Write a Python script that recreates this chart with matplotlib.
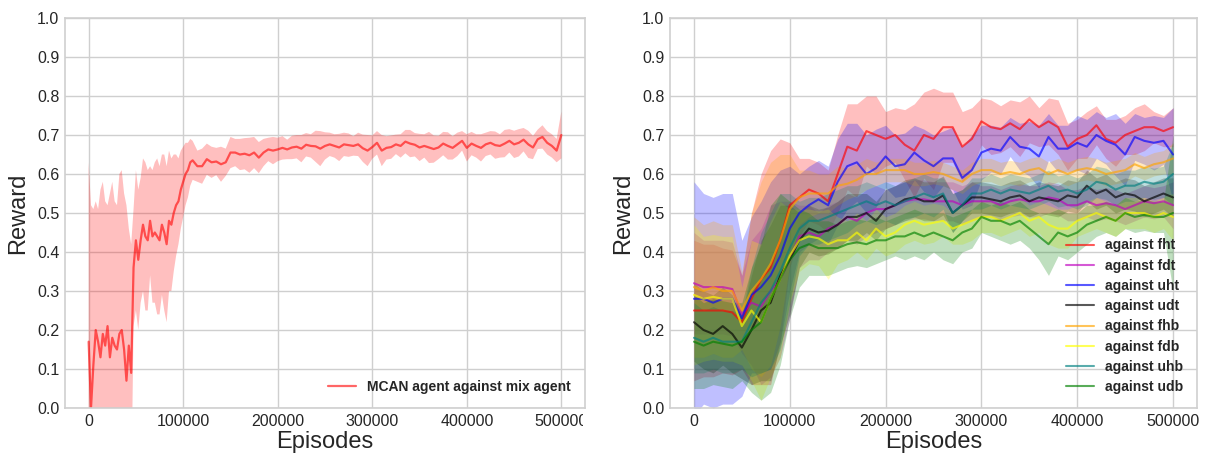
import numpy as np
import matplotlib
matplotlib.use("Agg")
import matplotlib.pyplot as plt
from matplotlib.patches import Rectangle

# ---------------- data: left panel ----------------
left_episodes = np.concatenate([np.arange(0, 110000, 2500), np.arange(110000, 500001, 5000)])
left_mean = [
    0.17, 0.00, 0.11, 0.20, 0.17, 0.13, 0.19, 0.16, 0.21, 0.13, 0.18, 0.16, 0.15, 0.19, 0.20, 0.15,
    0.07, 0.16, 0.09, 0.36, 0.43, 0.38, 0.43, 0.47, 0.44, 0.43, 0.48, 0.44, 0.45, 0.44, 0.43, 0.47,
    0.45, 0.42, 0.48, 0.47, 0.50, 0.52, 0.53, 0.56, 0.58, 0.60, 0.61, 0.63,
    # 110000 .. 500000 step 5000
    0.635, 0.62, 0.62, 0.638, 0.63, 0.632, 0.625, 0.63, 0.655, 0.655, 0.65, 0.652, 0.648, 0.655,
    0.642, 0.655, 0.663, 0.66, 0.663, 0.667, 0.663, 0.668, 0.67, 0.665, 0.675, 0.672, 0.671, 0.665,
    0.672, 0.676, 0.672, 0.668, 0.676, 0.674, 0.672, 0.676, 0.666, 0.66, 0.669, 0.68, 0.66, 0.667,
    0.669, 0.676, 0.672, 0.683, 0.678, 0.675, 0.668, 0.672, 0.668, 0.664, 0.668, 0.678, 0.672, 0.667,
    0.676, 0.685, 0.667, 0.678, 0.672, 0.667, 0.676, 0.68, 0.674, 0.672, 0.678, 0.685, 0.676, 0.68,
    0.688, 0.676, 0.668, 0.689, 0.695, 0.68, 0.672, 0.66, 0.70,
]
left_std = [
    0.46, 0.52, 0.40, 0.33, 0.34, 0.43, 0.39, 0.37, 0.31, 0.42, 0.40, 0.37, 0.37, 0.41, 0.41, 0.40,
    0.45, 0.30, 0.33, 0.15, 0.18, 0.18, 0.16, 0.17, 0.19, 0.18, 0.14, 0.17, 0.18, 0.20, 0.19, 0.18,
    0.20, 0.20, 0.18, 0.17, 0.15, 0.13, 0.11, 0.10, 0.09, 0.08, 0.07, 0.06,
    # 110000 .. 500000 step 5000
    0.05, 0.04, 0.045, 0.04, 0.04, 0.035, 0.045, 0.035, 0.04, 0.035, 0.04, 0.04, 0.045, 0.04,
    0.04, 0.035, 0.03, 0.035, 0.03, 0.03, 0.025, 0.03, 0.03, 0.035, 0.03, 0.03, 0.04, 0.045,
    0.035, 0.03, 0.03, 0.035, 0.03, 0.03, 0.025, 0.03, 0.035, 0.04, 0.03, 0.03, 0.04, 0.03,
    0.03, 0.025, 0.03, 0.03, 0.035, 0.03, 0.035, 0.03, 0.04, 0.035, 0.03, 0.03, 0.035, 0.03,
    0.03, 0.025, 0.035, 0.03, 0.03, 0.035, 0.03, 0.03, 0.035, 0.03, 0.035, 0.03, 0.035, 0.035,
    0.03, 0.035, 0.03, 0.025, 0.03, 0.03, 0.03, 0.03, 0.06,
]
left_label = "MCAN agent against mix agent"

# ---------------- data: right panel ----------------
right_episodes = np.arange(0, 500001, 10000)
series_names = ["against fht", "against fdt", "against uht", "against udt",
                "against fhb", "against fdb", "against uhb", "against udb"]
series_colors = ["red", "m", "blue", "k", "orange", "yellow", "teal", "green"]

fht_mean = [0.25, 0.25, 0.25, 0.25, 0.245, 0.22, 0.28, 0.33, 0.36, 0.43, 0.52, 0.54, 0.56, 0.55, 0.53, 0.60, 0.67,
            0.66, 0.71, 0.70, 0.69, 0.70, 0.675, 0.66, 0.70, 0.69, 0.72, 0.72, 0.67, 0.69, 0.735, 0.72, 0.715, 0.73,
            0.715, 0.74, 0.72, 0.735, 0.72, 0.67, 0.69, 0.70, 0.725, 0.69, 0.68, 0.70, 0.71, 0.72, 0.72, 0.71, 0.72]
fht_std = [0.18, 0.17, 0.17, 0.16, 0.16, 0.12, 0.22, 0.27, 0.30, 0.26, 0.16, 0.10, 0.08, 0.08, 0.08, 0.10, 0.11,
           0.12, 0.09, 0.10, 0.07, 0.07, 0.09, 0.12, 0.11, 0.13, 0.09, 0.09, 0.09, 0.08, 0.06, 0.07, 0.06, 0.06,
           0.07, 0.06, 0.05, 0.06, 0.07, 0.06, 0.05, 0.06, 0.05, 0.05, 0.06, 0.05, 0.06, 0.06, 0.04, 0.04, 0.05]

fdt_mean = [0.32, 0.31, 0.31, 0.31, 0.305, 0.24, 0.27, 0.26, 0.30, 0.33, 0.38, 0.44, 0.45, 0.44, 0.46, 0.47, 0.49,
            0.48, 0.50, 0.51, 0.51, 0.52, 0.53, 0.535, 0.535, 0.53, 0.53, 0.53, 0.52, 0.53, 0.53, 0.53, 0.52, 0.53,
            0.535, 0.53, 0.53, 0.54, 0.535, 0.52, 0.52, 0.53, 0.52, 0.525, 0.52, 0.51, 0.52, 0.53, 0.525, 0.53, 0.52]
fdt_std = [0.13, 0.12, 0.12, 0.12, 0.12, 0.10, 0.16, 0.20, 0.22, 0.20, 0.15, 0.08, 0.07, 0.06, 0.06, 0.06, 0.06,
           0.06, 0.06, 0.06, 0.05, 0.05, 0.05, 0.05, 0.05, 0.05, 0.05, 0.05, 0.05, 0.05, 0.04, 0.04, 0.04, 0.04,
           0.04, 0.04, 0.04, 0.04, 0.04, 0.04, 0.04, 0.04, 0.04, 0.04, 0.04, 0.04, 0.04, 0.04, 0.04, 0.04, 0.06]

uht_mean = [0.28, 0.28, 0.27, 0.28, 0.28, 0.23, 0.29, 0.31, 0.34, 0.39, 0.46, 0.50, 0.52, 0.535, 0.52, 0.58, 0.62,
            0.63, 0.60, 0.615, 0.645, 0.62, 0.625, 0.655, 0.635, 0.62, 0.64, 0.64, 0.59, 0.61, 0.655, 0.665, 0.66,
            0.695, 0.67, 0.665, 0.645, 0.695, 0.665, 0.665, 0.68, 0.67, 0.70, 0.685, 0.675, 0.65, 0.695, 0.685,
            0.68, 0.685, 0.65]
uht_std = [0.30, 0.27, 0.27, 0.27, 0.27, 0.20, 0.20, 0.22, 0.24, 0.22, 0.16, 0.10, 0.10, 0.10, 0.10, 0.11, 0.11,
           0.10, 0.10, 0.10, 0.08, 0.08, 0.08, 0.07, 0.08, 0.08, 0.07, 0.08, 0.08, 0.09, 0.07, 0.06, 0.06, 0.05,
           0.06, 0.07, 0.08, 0.06, 0.06, 0.06, 0.07, 0.07, 0.06, 0.06, 0.08, 0.08, 0.06, 0.06, 0.07, 0.06, 0.12]

udt_mean = [0.22, 0.20, 0.19, 0.21, 0.19, 0.155, 0.20, 0.25, 0.27, 0.34, 0.38, 0.43, 0.46, 0.45, 0.455, 0.47, 0.49,
            0.49, 0.50, 0.48, 0.51, 0.52, 0.535, 0.54, 0.53, 0.53, 0.545, 0.50, 0.52, 0.54, 0.54, 0.535, 0.53, 0.54,
            0.545, 0.53, 0.54, 0.535, 0.53, 0.545, 0.54, 0.57, 0.55, 0.56, 0.54, 0.55, 0.545, 0.53, 0.54, 0.55, 0.54]
udt_std = [0.10, 0.10, 0.10, 0.10, 0.10, 0.08, 0.14, 0.18, 0.20, 0.18, 0.14, 0.07, 0.06, 0.06, 0.06, 0.06, 0.06,
           0.06, 0.05, 0.05, 0.05, 0.05, 0.05, 0.05, 0.05, 0.05, 0.05, 0.05, 0.04, 0.04, 0.04, 0.04, 0.04, 0.04,
           0.04, 0.04, 0.04, 0.04, 0.04, 0.04, 0.04, 0.04, 0.04, 0.04, 0.04, 0.04, 0.04, 0.04, 0.04, 0.04, 0.05]

fhb_mean = [0.31, 0.30, 0.31, 0.30, 0.30, 0.25, 0.30, 0.33, 0.37, 0.43, 0.51, 0.54, 0.55, 0.55, 0.55, 0.57, 0.575,
            0.585, 0.60, 0.60, 0.61, 0.61, 0.61, 0.60, 0.60, 0.605, 0.60, 0.59, 0.58, 0.60, 0.61, 0.61, 0.60, 0.605,
            0.60, 0.61, 0.615, 0.60, 0.61, 0.60, 0.61, 0.615, 0.61, 0.60, 0.605, 0.61, 0.625, 0.615, 0.625, 0.63,
            0.64]
fhb_std = [0.18, 0.17, 0.17, 0.17, 0.17, 0.10, 0.20, 0.25, 0.26, 0.22, 0.14, 0.07, 0.06, 0.05, 0.05, 0.05, 0.04,
           0.04, 0.04, 0.03, 0.03, 0.03, 0.03, 0.03, 0.03, 0.03, 0.03, 0.03, 0.03, 0.03, 0.03, 0.03, 0.03, 0.03,
           0.03, 0.03, 0.03, 0.03, 0.03, 0.03, 0.03, 0.03, 0.03, 0.03, 0.03, 0.03, 0.03, 0.03, 0.03, 0.03, 0.04]

fdb_mean = [0.29, 0.28, 0.285, 0.28, 0.28, 0.21, 0.25, 0.22, 0.28, 0.33, 0.39, 0.43, 0.44, 0.435, 0.42, 0.43, 0.43,
            0.45, 0.43, 0.46, 0.44, 0.45, 0.47, 0.48, 0.47, 0.475, 0.48, 0.46, 0.47, 0.48, 0.49, 0.49, 0.48, 0.49,
            0.50, 0.48, 0.49, 0.47, 0.46, 0.46, 0.48, 0.49, 0.50, 0.49, 0.48, 0.50, 0.50, 0.50, 0.49, 0.50, 0.49]
fdb_std = [0.18, 0.16, 0.16, 0.16, 0.16, 0.10, 0.18, 0.20, 0.20, 0.20, 0.12, 0.08, 0.07, 0.07, 0.09, 0.06, 0.05,
           0.05, 0.05, 0.05, 0.05, 0.05, 0.05, 0.05, 0.05, 0.05, 0.04, 0.04, 0.05, 0.05, 0.04, 0.04, 0.04, 0.04,
           0.04, 0.04, 0.04, 0.05, 0.05, 0.05, 0.04, 0.04, 0.04, 0.04, 0.04, 0.04, 0.04, 0.04, 0.04, 0.04, 0.06]

uhb_mean = [0.18, 0.17, 0.18, 0.17, 0.17, 0.17, 0.22, 0.27, 0.30, 0.35, 0.41, 0.46, 0.48, 0.48, 0.49, 0.50, 0.51,
            0.52, 0.53, 0.52, 0.53, 0.52, 0.53, 0.54, 0.55, 0.54, 0.55, 0.50, 0.52, 0.55, 0.55, 0.56, 0.55, 0.56,
            0.555, 0.55, 0.56, 0.57, 0.555, 0.56, 0.55, 0.56, 0.58, 0.575, 0.56, 0.57, 0.57, 0.58, 0.575, 0.58, 0.60]
uhb_std = [0.09, 0.08, 0.08, 0.08, 0.08, 0.07, 0.14, 0.18, 0.20, 0.20, 0.14, 0.07, 0.06, 0.06, 0.06, 0.06, 0.06,
           0.05, 0.05, 0.05, 0.05, 0.05, 0.05, 0.05, 0.05, 0.05, 0.04, 0.05, 0.04, 0.04, 0.04, 0.04, 0.04, 0.04,
           0.04, 0.04, 0.04, 0.04, 0.04, 0.04, 0.04, 0.04, 0.04, 0.04, 0.04, 0.04, 0.04, 0.04, 0.04, 0.04, 0.08]

udb_mean = [0.17, 0.16, 0.17, 0.165, 0.16, 0.17, 0.20, 0.22, 0.28, 0.33, 0.38, 0.41, 0.42, 0.41, 0.41, 0.41, 0.42,
            0.425, 0.42, 0.43, 0.43, 0.44, 0.44, 0.45, 0.44, 0.45, 0.44, 0.43, 0.45, 0.46, 0.49, 0.48, 0.48, 0.47,
            0.48, 0.46, 0.44, 0.42, 0.45, 0.44, 0.45, 0.47, 0.48, 0.49, 0.48, 0.50, 0.49, 0.495, 0.49, 0.49, 0.50]
udb_std = [0.12, 0.11, 0.11, 0.11, 0.11, 0.10, 0.16, 0.20, 0.24, 0.22, 0.15, 0.10, 0.08, 0.07, 0.07, 0.06, 0.06,
           0.06, 0.06, 0.06, 0.05, 0.05, 0.06, 0.06, 0.06, 0.05, 0.06, 0.06, 0.05, 0.05, 0.04, 0.04, 0.05, 0.05,
           0.05, 0.05, 0.06, 0.08, 0.06, 0.06, 0.05, 0.05, 0.04, 0.04, 0.04, 0.04, 0.04, 0.04, 0.04, 0.04, 0.20]

right_means = [fht_mean, fdt_mean, uht_mean, udt_mean, fhb_mean, fdb_mean, uhb_mean, udb_mean]
right_stds = [fht_std, fdt_std, uht_std, udt_std, fhb_std, fdb_std, uhb_std, udb_std]

xticks = [0, 100000, 200000, 300000, 400000, 500000]
yticks = [0.0, 0.1, 0.2, 0.3, 0.4, 0.5, 0.6, 0.7, 0.8, 0.9, 1.0]

# ---------------- plotting ----------------
plt.style.use("seaborn-v0_8-whitegrid")
plt.rcParams["font.family"] = ["Liberation Sans", "DejaVu Sans"]

W, H = 1208, 454
fig = plt.figure(figsize=(W / 100, H / 100), dpi=100)
ax1 = fig.add_axes([65 / W, 1 - 408 / H, 520 / W, 390 / H])
ax2 = fig.add_axes([670 / W, 1 - 408 / H, 527 / W, 390 / H])

text_color = "#262626"
grid_color = "#cfcfcf"


def style(ax):
    ax.set_ylim(0.0, 1.0)
    ax.set_xlim(-25000, 525000)
    ax.set_xticks(xticks)
    ax.set_xticklabels([str(t) for t in xticks])
    ax.set_yticks(yticks)
    ax.set_yticklabels(["%.1f" % t for t in yticks])
    ax.tick_params(labelsize=11.5, colors=text_color, length=0, pad=4)
    ax.grid(True, color=grid_color, linewidth=1.0)
    for s in ax.spines.values():
        s.set_visible(True)
        s.set_color(grid_color)
        s.set_linewidth(1.2)
    ax.set_xlabel("Episodes", fontsize=17, color=text_color, labelpad=2)
    ax.set_ylabel("Reward", fontsize=17, color=text_color, labelpad=6)


lm = np.array(left_mean)
ls = np.array(left_std)
ax1.fill_between(left_episodes, lm - ls, lm + ls, color="red", alpha=0.25, linewidth=0)
ax1.plot(left_episodes, lm, color="red", alpha=0.6, linewidth=1.6, label=left_label)
style(ax1)
ax1.legend(loc="lower right", frameon=False, prop={"weight": "bold", "size": 10},
           handlelength=2.0, borderaxespad=0.6)

for name, col, m, s in zip(series_names, series_colors, right_means, right_stds):
    m = np.array(m)
    s = np.array(s)
    ax2.fill_between(right_episodes, m - s, m + s, color=col, alpha=0.25, linewidth=0)
for name, col, m in zip(series_names, series_colors, right_means):
    ax2.plot(right_episodes, m, color=col, alpha=0.65, linewidth=1.5, label=name)
style(ax2)
ax2.legend(loc="lower right", frameon=False, prop={"weight": "bold", "size": 10},
           handlelength=2.0, borderaxespad=0.6, labelspacing=0.45)

# the last tick label of the left panel is cut at the panel edge in the reference
fig.patches.append(Rectangle((583 / W, 0.0), 45 / W, 1 - 411 / H, transform=fig.transFigure,
                             facecolor="white", edgecolor="none", zorder=10))

fig.savefig("out.png", dpi=100, facecolor="white")
